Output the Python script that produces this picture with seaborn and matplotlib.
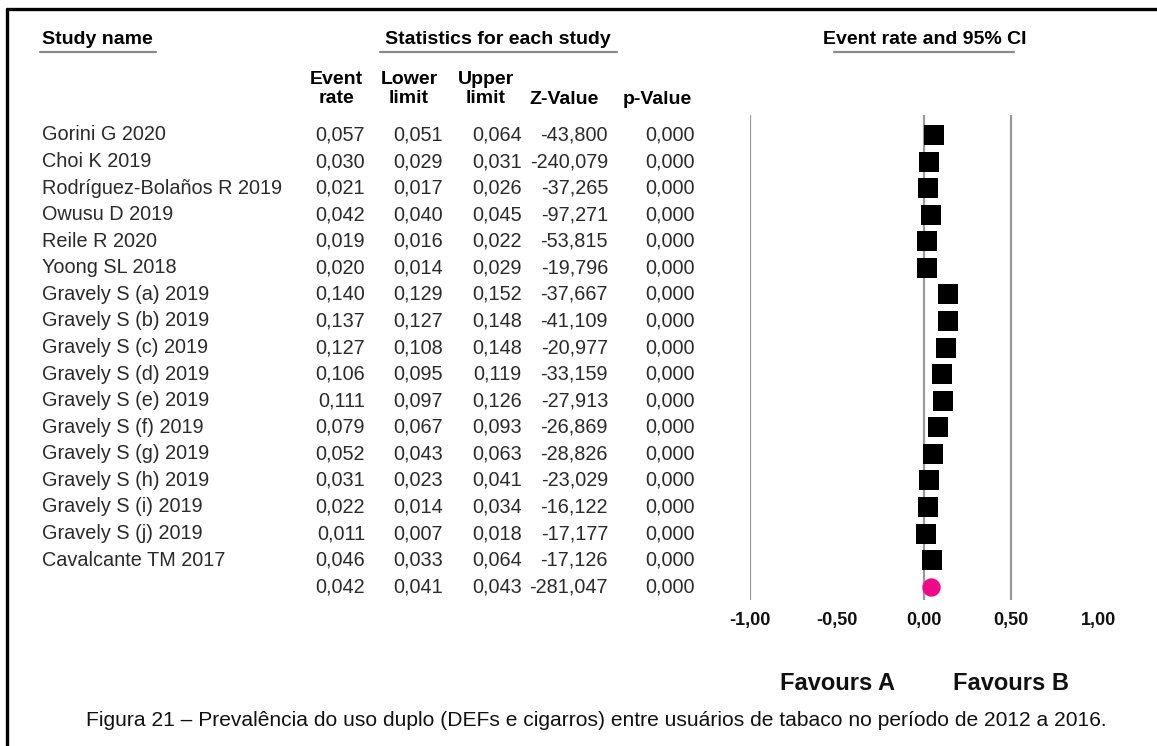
import matplotlib
matplotlib.use("Agg")
import matplotlib.pyplot as plt
from matplotlib import transforms
from matplotlib.lines import Line2D
import numpy as np
import pandas as pd
import seaborn as sns

# ---- data -------------------------------------------------------------
studies = [
    "Gorini G 2020", "Choi K 2019", "Rodríguez-Bolaños R 2019", "Owusu D 2019",
    "Reile R 2020", "Yoong SL 2018", "Gravely S (a) 2019", "Gravely S (b) 2019",
    "Gravely S (c) 2019", "Gravely S (d) 2019", "Gravely S (e) 2019",
    "Gravely S (f) 2019", "Gravely S (g) 2019", "Gravely S (h) 2019",
    "Gravely S (i) 2019", "Gravely S (j) 2019", "Cavalcante TM 2017",
]
event_rate = [0.057, 0.030, 0.021, 0.042, 0.019, 0.020, 0.140, 0.137, 0.127,
              0.106, 0.111, 0.079, 0.052, 0.031, 0.022, 0.011, 0.046]
lower_limit = [0.051, 0.029, 0.017, 0.040, 0.016, 0.014, 0.129, 0.127, 0.108,
               0.095, 0.097, 0.067, 0.043, 0.023, 0.014, 0.007, 0.033]
upper_limit = [0.064, 0.031, 0.026, 0.045, 0.022, 0.029, 0.152, 0.148, 0.148,
               0.119, 0.126, 0.093, 0.063, 0.041, 0.034, 0.018, 0.064]
z_value = [-43.800, -240.079, -37.265, -97.271, -53.815, -19.796, -37.667,
           -41.109, -20.977, -33.159, -27.913, -26.869, -28.826, -23.029,
           -16.122, -17.177, -17.126]
p_value = [0.000, 0.000, 0.000, 0.000, 0.000, 0.000, 0.000, 0.000, 0.000,
           0.000, 0.000, 0.000, 0.000, 0.000, 0.000, 0.000, 0.000]

# pooled estimate
pooled_rate = 0.042
pooled_lower = 0.041
pooled_upper = 0.043
pooled_z = -281.047
pooled_p = 0.000

x_ticks = [-1.00, -0.50, 0.00, 0.50, 1.00]
ref_lines = [-1.00, 0.00, 0.50]
caption = ("Figura 21 – Prevalência do uso duplo (DEFs e cigarros) entre "
           "usuários de tabaco no período de 2012 a 2016.")

# ---- setup ------------------------------------------------------------
sns.set_theme(style="white")
plt.rcParams["font.family"] = ["Liberation Sans", "DejaVu Sans"]

W, H = 1157, 746
fig = plt.figure(figsize=(W / 100, H / 100), dpi=100)
fig.patch.set_facecolor("white")


def fx(x):
    return x / W


def fy(y):
    return 1 - y / H


def br(v, nd=3):
    return f"{v:.{nd}f}".replace(".", ",")


n = len(studies)
rows = pd.DataFrame({
    "row": np.arange(n),
    "study": studies,
    "rate": event_rate,
    "lower": lower_limit,
    "upper": upper_limit,
    "z": z_value,
    "p": p_value,
})
pooled = pd.DataFrame({"row": [n], "rate": [pooled_rate]})

# forest panel
ax = fig.add_axes([fx(750), fy(600), fx(1098) - fx(750), (600 - 115) / H])
ax.set_xlim(-1, 1)
ax.set_ylim(n + 0.5, -0.75)
for s in ax.spines.values():
    s.set_visible(False)
ax.set_yticks([])

ax.vlines(ref_lines, -0.75, n + 0.5, color="#9a9a9a", lw=1.6, zorder=1)

sns.scatterplot(data=rows, x="rate", y="row", marker="s", s=190,
                color="black", edgecolor="black", linewidth=0, ax=ax,
                zorder=3, legend=False)
sns.scatterplot(data=pooled, x="rate", y="row", marker="o", s=175,
                color="#EE0A86", edgecolor="#EE0A86", linewidth=0, ax=ax,
                zorder=3, legend=False)
ax.set_xlabel("")
ax.set_ylabel("")

ax.set_xticks(x_ticks)
ax.set_xticklabels([br(t, 2) for t in x_ticks], fontsize=13,
                   fontweight="bold", color="#111111")
ax.tick_params(axis="x", length=0, pad=9)

# table text: x in figure coords, y on the row scale of the forest panel
trans = transforms.blended_transform_factory(fig.transFigure, ax.transData)
txt_kw = dict(transform=trans, va="center", fontsize=14.3, color="#2a2a2a")

cols = [("rate", 365), ("lower", 443), ("upper", 522), ("z", 608), ("p", 695)]
for _, r in rows.iterrows():
    ax.text(fx(42), r["row"], r["study"], ha="left", **txt_kw)
    for key, xr in cols:
        ax.text(fx(xr), r["row"], br(r[key]), ha="right", **txt_kw)

pooled_vals = [pooled_rate, pooled_lower, pooled_upper, pooled_z, pooled_p]
for (key, xr), v in zip(cols, pooled_vals):
    ax.text(fx(xr), n, br(v), ha="right", **txt_kw)

# column headers
hdr_kw = dict(fontsize=14, fontweight="bold", color="black", va="center")
fig.text(fx(42), fy(40), "Study name", ha="left", **hdr_kw)
fig.text(fx(498), fy(40), "Statistics for each study", ha="center", **hdr_kw)
fig.text(fx(925), fy(40), "Event rate and 95% CI", ha="center", **hdr_kw)

for xc, lab in [(336, "Event\nrate"), (409, "Lower\nlimit"), (486, "Upper\nlimit")]:
    fig.text(fx(xc), fy(89), lab, ha="center", multialignment="center",
             linespacing=1.2, **hdr_kw)
fig.text(fx(564), fy(100), "Z-Value", ha="center", **hdr_kw)
fig.text(fx(657), fy(100), "p-Value", ha="center", **hdr_kw)

for x0, x1 in [(40, 156), (380, 617), (834, 1014)]:
    fig.add_artist(Line2D([fx(x0), fx(x1)], [fy(52), fy(52)],
                          color="#8a8a8a", lw=1.6))

# favours labels below the axis
ftrans = transforms.blended_transform_factory(ax.transData, fig.transFigure)
ax.text(-0.5, fy(683), "Favours A", transform=ftrans, ha="center",
        va="center", fontsize=17, fontweight="bold", color="#111111")
ax.text(0.5, fy(683), "Favours B", transform=ftrans, ha="center",
        va="center", fontsize=17, fontweight="bold", color="#111111")

# caption
fig.text(fx(596), fy(721), caption, ha="center", va="center",
         fontsize=15.1, color="#111111")

# frame (top and left rules)
fig.add_artist(Line2D([fx(7), 1.0], [fy(9), fy(9)], color="black", lw=2.4))
fig.add_artist(Line2D([fx(7), fx(7)], [fy(9), 0.0], color="black", lw=2.4))

fig.savefig("out.png", dpi=100, facecolor="white")
